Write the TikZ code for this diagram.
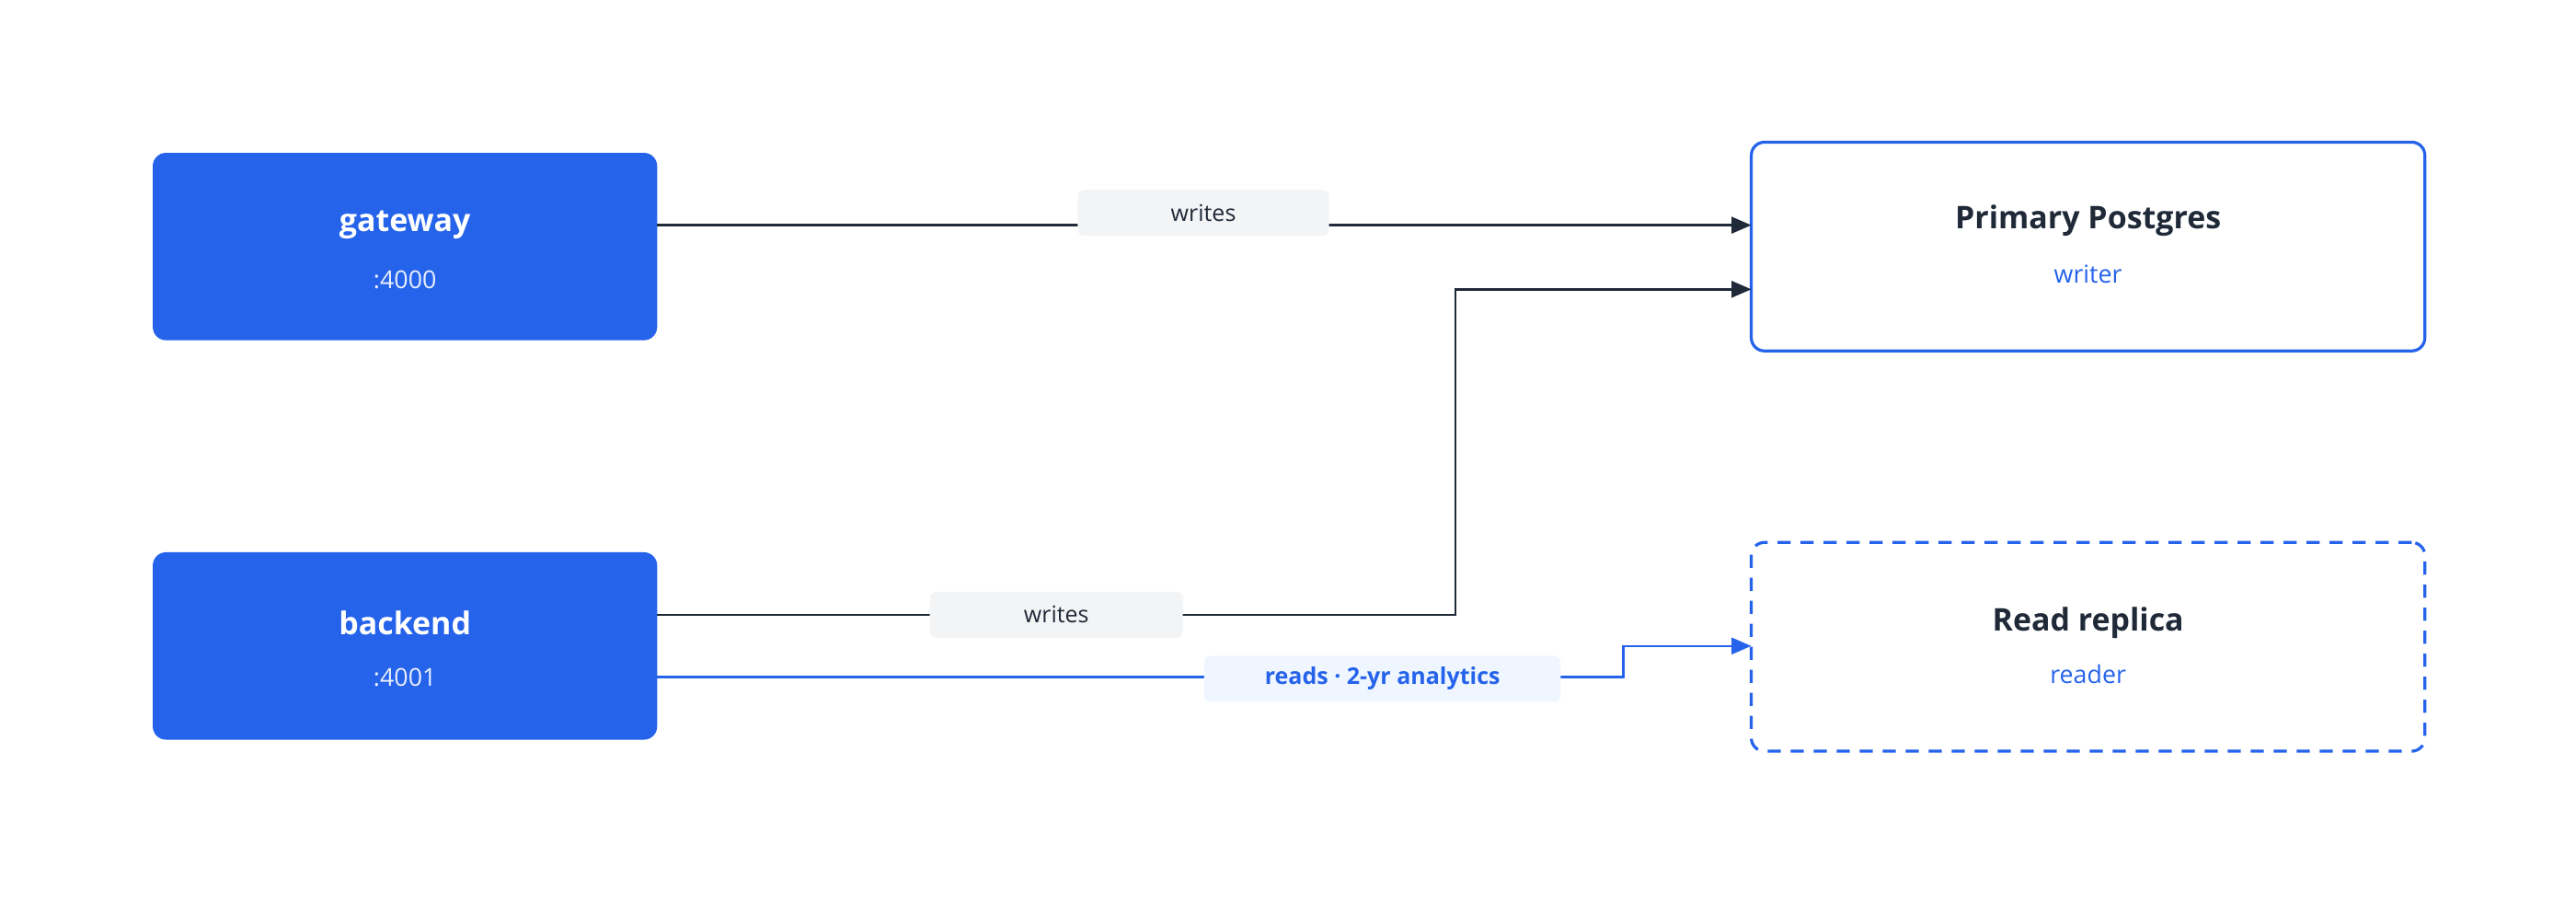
\documentclass[tikz,border=0pt]{standalone}
\usepackage{fontspec}
\setmainfont{Open Sans}
\usetikzlibrary{arrows.meta}
\definecolor{blu}{HTML}{2563EB}
\definecolor{dk}{HTML}{1F2937}
\definecolor{lg}{HTML}{F3F4F6}
\definecolor{lb}{HTML}{EFF6FF}
\begin{document}
\begin{tikzpicture}[x=0.5pt,y=-0.5pt,
 svc/.style={fill=blu,draw=none,rounded corners=4pt,minimum width=153.5pt,minimum height=57pt},
 db/.style={fill=white,draw=blu,line width=0.9pt,rounded corners=4pt,minimum width=205pt,minimum height=63.5pt},
 ttl/.style={font=\bfseries\fontsize{9.5}{11}\selectfont},
 sub/.style={font=\fontsize{7.5}{9}\selectfont},
 lbl/.style={fill=lg,rounded corners=2pt,font=\fontsize{7}{8}\selectfont,text=dk,minimum height=14pt},
 wr/.style={draw=dk,line width=0.7pt,-{Triangle[length=6pt,width=5pt]}},
 rd/.style={draw=blu,line width=0.7pt,-{Triangle[length=6pt,width=5pt]}}]
\useasboundingbox (0,0) rectangle (1568,549);
\node[svc] (gw) at (246.5,150) {};
\node[ttl,text=white] at (246.5,137) {gateway};
\node[sub,text=white!90!blu] at (246.5,170) {:4000};
\node[svc] (be) at (246.5,393) {};
\node[ttl,text=white] at (246.5,379) {backend};
\node[sub,text=white!90!blu] at (246.5,412) {:4001};
\node[db] (pg) at (1271,150) {};
\node[ttl,text=dk] at (1271,134) {Primary Postgres};
\node[sub,text=blu] at (1271,167) {writer};
\node[db,dashed,dash pattern=on 4pt off 3pt] (rr) at (1271,393.5) {};
\node[ttl,text=dk] at (1271,379) {Read replica};
\node[sub,text=blu] at (1271,410) {reader};
\coordinate (a1) at (400,137); \coordinate (a2) at (1066,137);
\draw[wr] (a1) -- (a2);
\node[lbl,minimum width=76.5pt] at (732.5,129.5) {writes};
\coordinate (b1) at (400,374); \coordinate (b2) at (1066,176);
\draw[wr] (b1) -- (886,374) -- (886,176) -- (b2);
\node[lbl,minimum width=77pt] at (643,374) {writes};
\coordinate (c1) at (400,412); \coordinate (c2) at (1066,393);
\draw[rd] (c1) -- (988,412) -- (988,393) -- (c2);
\node[lbl,fill=lb,text=blu,font=\bfseries\fontsize{7}{8}\selectfont,minimum width=108.5pt] at (841.5,413) {reads · 2-yr analytics};
\end{tikzpicture}
\end{document}
